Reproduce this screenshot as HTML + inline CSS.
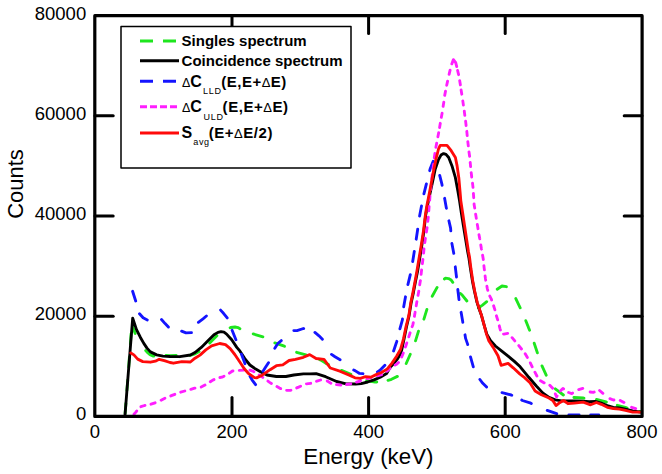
<!DOCTYPE html>
<html><head><meta charset="utf-8"><style>
html,body{margin:0;padding:0;background:#fff;}
body{width:662px;height:474px;overflow:hidden;}
svg{display:block;}
text{font-family:"Liberation Sans",sans-serif;fill:#000;}
</style></head><body>
<svg width="662" height="474" viewBox="0 0 662 474">
<rect x="0" y="0" width="662" height="474" fill="#fff"/>
<g fill="none" stroke-linejoin="round" stroke-linecap="round">
<path d="M125.1,413.5 L125.9,403.4 M126.9,390.3 L127.7,380.6 L127.7,380.1 M128.7,367.1 L129.4,356.9 M130.4,343.8 L131.1,333.6 M132.5,323.6 L133.2,327.6 L134.5,331.8 L135.2,333.4 M145.7,350.5 L147.1,352.1 L150.0,354.6 L153.4,356.1 L153.9,356.0 M166.0,355.5 L170.0,355.6 L176.2,355.5 M189.8,355.3 L190.1,355.4 L195.1,353.8 L199.1,351.5 M209.7,342.9 L212.9,339.7 L216.9,335.7 M230.1,327.7 L230.6,327.5 L235.0,327.0 L238.0,327.6 L239.9,328.7 M253.2,333.9 L262.9,336.9 M274.8,342.9 L284.3,346.2 L284.5,346.3 M296.6,352.3 L305.0,354.6 L306.4,355.1 M319.6,359.7 L320.8,360.1 L325.6,363.1 L328.5,364.5 M341.5,370.4 L350.9,374.4 M366.7,380.5 L368.0,380.9 L375.0,382.0 L376.8,382.0 M388.0,380.4 L391.5,379.3 L397.4,376.4 M406.2,363.5 L410.3,354.2 M415.5,340.9 L418.5,331.1 M423.9,319.2 L426.9,309.4 M432.2,296.3 L437.1,287.4 M444.4,279.0 L445.5,278.2 L448.5,278.6 L451.2,280.1 L452.8,282.3 M460.2,293.4 L462.0,294.8 L466.9,301.0 M478.5,307.9 L482.5,305.1 L486.7,301.7 M497.2,289.2 L502.0,286.0 L506.4,286.7 M515.8,298.6 L520.2,307.8 M525.8,320.7 L528.5,327.6 L529.6,330.2 M534.2,343.2 L537.2,352.3 L537.4,352.9 M542.0,365.9 L546.2,375.2 M555.3,388.8 L558.3,391.1 L563.4,395.0 M573.9,397.5 L583.2,398.0 L584.0,398.1 M596.5,399.5 L606.1,401.9 L606.4,402.0 M617.3,405.3 L625.4,407.3 L627.1,408.0 M639.6,411.4 L640.5,411.5" stroke="#1ee61e" stroke-width="2.85"/>
<polyline points="124.9,416.5 127.7,380.6 132.7,318.1 136.5,329.6 140.3,337.2 143.8,343.4 147.0,348.1 150.4,351.9 156.7,354.9 163.0,356.2 170.0,356.5 179.8,356.7 190.4,355.0 195.0,352.5 201.3,347.4 207.7,341.1 214.0,334.8 218.0,332.4 221.0,331.6 224.0,332.2 226.6,334.1 231.7,339.8 236.8,347.4 240.0,351.2 244.8,358.6 249.9,365.0 255.7,369.1 260.0,371.4 266.9,375.0 276.4,376.5 285.9,376.5 293.8,375.0 303.4,373.9 310.0,373.9 316.1,373.6 325.6,376.7 336.6,381.5 346.1,383.8 355.6,384.0 361.3,383.6 367.7,382.0 374.0,379.9 380.3,377.2 386.6,373.6 390.0,367.6 393.1,364.3 397.7,358.5 400.5,354.1 401.6,350.4 404.0,339.1 406.4,327.2 409.1,315.6 411.2,302.6 413.4,292.6 415.5,281.6 417.7,270.6 419.7,258.6 421.8,245.6 424.0,230.6 425.6,215.6 427.1,207.6 429.4,196.2 432.7,181.1 435.2,169.3 438.5,159.6 441.0,155.1 443.6,153.6 446.0,154.4 448.7,157.5 452.0,165.9 455.4,177.7 457.9,191.2 459.5,200.6 461.4,213.3 463.4,225.9 465.5,238.6 467.6,251.2 469.0,258.6 470.4,268.3 472.4,280.9 474.4,291.0 477.0,302.4 479.5,310.0 481.5,315.6 484.0,324.6 486.8,334.1 490.6,340.6 495.4,346.0 501.8,351.1 508.1,356.1 514.4,361.4 520.2,366.8 528.8,377.3 536.3,386.0 542.7,392.9 549.0,397.4 555.3,399.9 561.6,400.8 574.3,400.9 583.1,401.2 589.2,401.7 595.2,401.4 601.3,403.1 607.3,405.5 613.3,407.3 619.4,407.9 625.4,409.1 632.7,410.9 640.5,412.1" stroke="#000" stroke-width="2.85"/>
<path d="M132.6,291.3 L135.7,301.0 M139.5,313.7 L143.1,317.8 L147.3,319.9 M161.5,319.5 L165.1,323.6 L168.4,327.1 M181.6,331.2 L186.0,332.9 L191.5,332.7 M198.4,322.3 L203.0,318.8 L206.4,316.0 M220.6,310.1 L223.5,313.3 L227.2,317.9 M232.1,330.3 L235.9,339.8 M241.4,354.1 L244.1,361.2 L245.0,363.7 M250.0,376.2 L252.0,379.8 L255.6,384.7 M263.0,371.3 L265.5,367.3 L268.5,362.7 M274.8,348.3 L278.0,343.3 L281.3,340.6 M293.8,330.6 L297.0,330.6 L303.4,328.5 L303.7,328.6 M314.9,332.4 L319.0,335.8 L322.4,339.2 M331.5,354.4 L335.0,356.8 L340.1,359.8 M353.7,370.0 L355.0,370.6 L359.2,373.3 L363.0,373.7 M377.4,371.9 L380.0,370.3 L384.9,365.2 M393.6,351.0 L396.6,342.0 L396.8,341.3 M399.9,328.9 L402.4,319.9 L402.5,319.0 M403.7,306.8 L405.5,296.8 M407.9,284.6 L410.3,274.7 M412.7,261.5 L414.3,251.4 M416.2,239.2 L417.7,229.2 L417.7,229.1 M419.6,216.0 L421.5,205.9 M423.9,193.8 L426.4,183.9 M429.7,170.7 L430.1,169.0 L433.2,161.2 M439.7,175.4 L441.9,184.1 L442.1,185.3 M444.6,198.3 L446.3,207.8 L446.4,208.3 M448.9,220.8 L450.6,228.1 L450.8,230.8 M451.9,243.4 L453.8,253.4 M455.3,266.8 L455.7,270.3 L456.5,277.0 M457.8,289.5 L458.9,298.8 L459.0,299.6 M461.1,312.3 L462.7,321.6 L462.8,322.3 M465.0,334.8 L465.6,338.4 L467.6,344.1 L467.7,344.6 M470.5,356.9 L473.3,366.8 M479.9,379.5 L482.8,383.3 L486.6,387.1 M502.0,392.6 L505.0,393.3 L511.3,395.0 L511.8,395.2 M521.7,400.1 L522.4,400.5 L530.0,402.8 L531.3,403.5 M547.2,410.4 L556.6,413.7 L556.8,413.7 M568.9,414.8 L579.1,414.8 M590.7,414.8 L598.8,414.8" stroke="#1414ff" stroke-width="2.85"/>
<path d="M134.0,414.3 L136.1,411.9 L136.7,411.0 M140.9,406.7 L144.6,405.5 L145.0,405.4 M151.0,404.2 L155.1,402.8 M161.1,400.2 L164.9,398.2 M170.8,395.9 L172.0,395.4 L174.8,394.3 M180.7,392.2 L184.8,391.0 M190.8,389.3 L194.6,388.2 L195.0,388.1 M201.2,387.0 L201.2,387.0 L205.0,385.1 M210.3,381.8 L212.8,380.1 L214.0,379.6 M219.9,377.5 L222.0,377.2 L224.0,376.2 M229.4,373.2 L232.5,371.0 L233.0,371.0 M239.3,370.4 L243.6,370.2 M249.9,370.2 L249.9,370.2 L253.4,371.4 L253.9,371.7 M259.2,374.9 L261.0,376.1 L262.8,377.4 M267.9,381.1 L270.0,382.6 L271.4,383.5 M276.9,386.6 L279.5,388.1 L280.7,388.6 M286.6,390.3 L290.7,390.3 L290.9,390.2 M296.7,387.9 L298.6,387.1 L300.6,386.2 M306.4,383.8 L306.5,383.8 L310.7,383.3 M316.5,381.3 L317.0,381.1 L320.6,380.0 M327.2,381.0 L328.5,381.8 L330.9,383.2 M336.5,384.6 L340.8,385.0 M346.6,384.5 L350.8,383.8 L350.8,383.8 M356.5,382.1 L358.8,381.5 L360.5,380.7 M367.0,378.6 L371.2,377.6 M377.5,375.8 L380.0,375.0 L381.7,374.6 M387.0,371.3 L389.8,368.8 L390.1,368.4 M395.2,365.0 L396.6,364.3 L398.5,362.4 M401.7,357.0 L403.0,353.8 L403.3,353.0 M405.4,347.0 L405.9,345.7 L406.8,342.9 M408.8,336.9 L410.1,332.8 M412.1,326.7 L412.8,324.9 L413.3,322.6 M414.4,316.4 L415.0,312.8 L415.1,312.1 M416.2,305.9 L416.6,303.3 L416.9,301.6 M418.0,295.4 L418.7,291.7 L418.8,291.1 M419.7,284.8 L420.3,281.1 L420.4,280.6 M421.1,274.3 L421.4,271.6 L421.6,270.0 M422.4,263.7 L422.9,259.4 M423.6,253.1 L424.0,248.8 M424.8,242.5 L425.3,238.8 L425.4,238.3 M426.4,232.0 L427.0,228.3 L427.1,227.7 M427.8,221.4 L428.2,217.9 L428.3,217.1 M428.8,210.8 L429.1,206.5 M429.7,200.2 L430.0,195.9 M430.6,189.6 L431.1,185.3 M431.8,179.0 L432.3,174.7 M433.0,168.4 L433.6,164.1 M434.3,157.8 L434.9,153.5 M435.9,147.3 L436.7,143.1 M437.9,136.8 L438.7,132.6 M439.6,127.5 L440.3,123.3 M441.3,117.4 L442.1,113.2 M443.1,106.4 L443.8,102.2 M444.7,95.4 L444.9,94.4 L445.5,91.2 M446.7,85.3 L447.6,81.1 M449.1,74.4 L450.1,70.2 M451.8,63.9 L453.4,59.6 L455.7,62.6 L456.2,64.6 M455.6,62.5 L455.7,62.6 L456.7,66.6 M457.6,70.5 L458.6,74.7 M459.7,80.7 L460.4,84.9 M461.1,90.0 L461.8,94.2 M462.8,100.9 L463.4,105.1 M464.3,111.1 L464.3,111.3 L464.8,115.4 M465.6,121.2 L466.1,125.5 M466.8,131.3 L467.2,135.6 M467.8,141.7 L468.3,145.9 M469.0,152.0 L469.6,156.3 M470.2,162.4 L470.6,166.6 M471.2,172.7 L471.4,174.3 L471.7,177.0 M472.5,183.1 L473.0,187.3 M473.4,193.4 L473.7,197.7 M474.1,203.8 L474.1,204.4 L474.7,208.1 M475.6,214.1 L475.9,215.8 L476.3,218.4 M477.3,224.4 L477.8,227.2 L478.0,228.7 M479.0,234.7 L479.7,238.6 L479.8,238.9 M480.8,245.0 L481.4,248.7 L481.5,249.2 M482.6,255.2 L483.2,258.8 L483.3,259.5 M483.9,265.6 L484.2,268.3 L484.4,269.8 M485.1,275.9 L485.4,278.4 L485.7,280.2 M486.9,286.2 L487.3,288.5 L487.8,290.4 M489.8,296.1 L491.1,298.6 L491.6,300.0 M493.6,305.8 L494.9,309.9 M496.4,315.8 L497.7,319.9 M499.3,325.8 L500.0,328.6 L500.4,330.0 M503.5,334.1 L504.0,334.1 L507.7,333.4 M512.1,337.7 L514.8,340.9 M518.8,345.6 L521.5,349.0 M525.2,353.8 L527.4,357.5 M530.3,362.9 L532.2,366.8 M534.9,372.2 L536.9,376.0 M540.5,380.8 L543.9,382.8 L544.2,382.9 M549.8,385.2 L552.7,388.3 M555.3,393.9 L556.6,396.8 L557.1,395.9 M560.5,390.8 L562.9,388.4 L563.6,388.9 M568.6,392.5 L571.8,393.6 L572.6,393.1 M578.7,389.6 L582.8,388.4 M590.1,392.0 L593.3,392.4 L594.2,392.0 M599.6,390.5 L602.9,393.3 M609.9,398.7 L613.3,400.0 L614.0,400.0 M620.2,400.4 L624.0,402.4 M631.6,407.3 L635.7,408.6" stroke="#ff1eff" stroke-width="2.85"/>
<polyline points="130.8,353.0 133.9,354.9 137.7,359.1 142.8,361.6 150.4,362.2 155.4,361.2 159.2,359.3 164.3,360.6 170.0,362.5 173.4,363.2 181.9,361.6 190.4,362.0 195.0,358.2 200.0,355.1 205.8,349.9 211.6,345.8 219.7,343.5 225.5,344.7 230.2,348.7 234.8,354.5 239.5,361.5 244.1,368.5 248.7,373.7 254.5,377.7 256.5,377.9 262.2,375.2 270.1,369.7 276.4,365.7 282.8,364.9 289.1,360.5 295.4,359.4 303.4,357.3 309.7,354.6 316.1,358.5 324.0,359.3 330.3,368.0 339.8,371.2 349.3,375.1 355.0,377.8 360.3,378.3 365.5,376.7 370.8,377.2 376.1,374.6 381.4,372.5 387.3,368.9 392.0,363.1 396.6,356.2 400.6,349.2 403.5,338.8 405.9,327.2 408.8,315.6 410.8,302.6 412.9,292.6 415.0,281.6 417.0,270.6 419.0,258.6 421.2,245.6 423.5,230.6 425.3,215.6 426.5,207.6 428.4,197.9 431.0,184.4 433.5,171.0 436.0,159.1 438.5,149.0 440.2,145.3 447.0,145.3 451.2,150.7 455.4,157.5 457.1,165.9 458.8,177.7 460.0,191.2 460.8,200.6 462.7,213.3 464.6,225.9 466.5,238.6 468.4,251.2 469.6,257.6 470.9,268.3 472.8,280.9 474.7,291.0 477.2,302.4 479.7,310.0 481.6,315.6 484.0,324.6 486.5,334.1 488.8,340.8 493.0,347.1 498.0,355.8 501.1,365.3 503.7,364.6 508.1,363.4 513.2,367.8 520.0,374.1 524.6,377.6 530.0,382.8 535.1,391.0 541.4,394.8 549.0,398.0 552.8,400.5 556.0,405.6 559.1,403.1 563.5,400.5 568.0,403.7 574.3,403.1 583.2,402.1 590.6,404.8 596.4,402.5 601.3,404.3 607.3,407.3 613.3,408.5 619.4,409.1 625.4,410.3 632.7,412.1 640.5,412.1" stroke="#ff0a0a" stroke-width="2.85"/>
</g>
<!-- frame -->
<rect x="94.8" y="15.7" width="547.3" height="400.7" fill="none" stroke="#000" stroke-width="3.2" stroke-linejoin="round"/>
<g stroke="#000" stroke-width="3" stroke-linecap="round">
<line x1="232" y1="416" x2="232" y2="397.6"/>
<line x1="368.6" y1="416" x2="368.6" y2="397.6"/>
<line x1="505.2" y1="416" x2="505.2" y2="397.6"/>
<line x1="232" y1="16" x2="232" y2="33.4"/>
<line x1="368.6" y1="16" x2="368.6" y2="33.4"/>
<line x1="505.2" y1="16" x2="505.2" y2="33.4"/>
<line x1="95" y1="115.8" x2="113.2" y2="115.8"/>
<line x1="95" y1="216" x2="113.2" y2="216"/>
<line x1="95" y1="316.2" x2="113.2" y2="316.2"/>
<line x1="642" y1="115.8" x2="624.2" y2="115.8"/>
<line x1="642" y1="216" x2="624.2" y2="216"/>
<line x1="642" y1="316.2" x2="624.2" y2="316.2"/>
</g>
<!-- y labels -->
<g font-size="18.5" text-anchor="end" transform="translate(-0.8,0)">
<text x="87" y="19.6">80000</text>
<text x="87" y="119.8">60000</text>
<text x="87" y="220">40000</text>
<text x="87" y="320.2">20000</text>
<text x="87" y="420.4">0</text>
</g>
<g font-size="18.5" text-anchor="middle">
<text x="95" y="437.6">0</text>
<text x="232" y="437.6">200</text>
<text x="368.7" y="437.6">400</text>
<text x="505.3" y="437.6">600</text>
<text x="642" y="437.6">800</text>
</g>
<text x="368.4" y="463.6" font-size="22.3" text-anchor="middle">Energy (keV)</text>
<text transform="translate(23,184) rotate(-90)" font-size="22" text-anchor="middle">Counts</text>
<!-- legend -->
<rect x="121" y="26.6" width="230" height="141.3" fill="#fff" stroke="#000" stroke-width="1.5" stroke-linejoin="round"/>
<g stroke-width="3" fill="none">
<line x1="140" y1="41" x2="178" y2="41" stroke="#1ee61e" stroke-dasharray="13 10" stroke-linecap="butt"/>
<line x1="140" y1="60.7" x2="179" y2="60.7" stroke="#000"/>
<line x1="140" y1="81.2" x2="178" y2="81.2" stroke="#1414ff" stroke-dasharray="13 10" stroke-linecap="butt"/>
<line x1="140" y1="106.7" x2="178" y2="106.7" stroke="#ff1eff" stroke-dasharray="7 3" stroke-linecap="butt"/>
<line x1="140" y1="133" x2="179" y2="133" stroke="#ff0a0a"/>
</g>
<g font-size="15" font-weight="bold">
<text x="181.6" y="45.6">Singles spectrum</text>
<text x="181.6" y="66.1">Coincidence spectrum</text>
<text x="182" y="86.9" font-weight="normal" font-size="12.5">&#916;</text>
<text x="190.3" y="86.9" font-size="16">C</text>
<text x="203" y="94" font-size="9" font-weight="normal" letter-spacing="0.7">LLD</text>
<text x="221.3" y="86.9" textLength="65" lengthAdjust="spacing">(E,E+<tspan font-weight="normal" font-size="13">&#916;</tspan>E)</text>
<text x="182" y="112.2" font-weight="normal" font-size="12.5">&#916;</text>
<text x="190.3" y="112.2" font-size="16">C</text>
<text x="203.5" y="120.3" font-size="9" font-weight="normal" letter-spacing="0.7">ULD</text>
<text x="222.6" y="112.2" textLength="65.5" lengthAdjust="spacing">(E,E+<tspan font-weight="normal" font-size="13">&#916;</tspan>E)</text>
<text x="181.5" y="137.8" font-size="16">S</text>
<text x="193.3" y="144.8" font-size="9" font-weight="normal" letter-spacing="0.6">avg</text>
<text x="208.8" y="137.8" textLength="63.6" lengthAdjust="spacing">(E+<tspan font-weight="normal" font-size="13">&#916;</tspan>E/2)</text>
</g>
</svg>
</body></html>
